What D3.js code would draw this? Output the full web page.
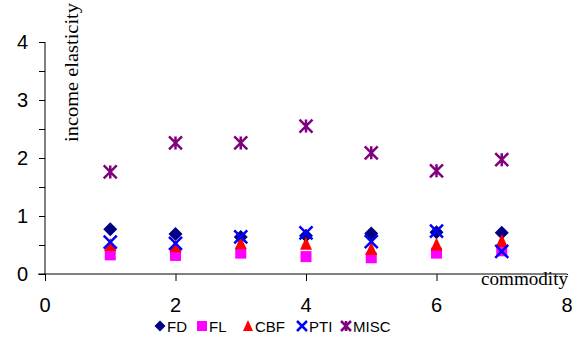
<!DOCTYPE html>
<html><head><meta charset="utf-8">
<script src="https://cdn.jsdelivr.net/npm/d3@7"></script>
<style>body{margin:0;background:#fff}</style>
</head><body>
<svg id="c" width="580" height="349"></svg>
<script>
const commodities = [1, 2, 3, 4, 5, 6, 7];
const FD   = [0.77, 0.69, 0.64, 0.66, 0.70, 0.72, 0.71];
const FL   = [0.33, 0.32, 0.36, 0.30, 0.28, 0.36, 0.40];
const CBF  = [0.50, 0.48, 0.53, 0.52, 0.43, 0.51, 0.57];
const PTI  = [0.55, 0.53, 0.64, 0.71, 0.56, 0.74, 0.39];
const MISC = [1.76, 2.26, 2.26, 2.55, 2.09, 1.78, 1.97];
const seriesNames = ["FD", "FL", "CBF", "PTI", "MISC"];
const xTicks = [0, 2, 4, 6, 8];
const yTicks = [0, 1, 2, 3, 4];

const series = [
  {name: "FD", values: FD, color: "#000080", sym: "diamond"},
  {name: "FL", values: FL, color: "#FF00FF", sym: "square"},
  {name: "CBF", values: CBF, color: "#FF0000", sym: "triangle"},
  {name: "PTI", values: PTI, color: "#0000FF", sym: "x"},
  {name: "MISC", values: MISC, color: "#800080", sym: "star"}
];

const svg = d3.select("#c");
const x = d3.scaleLinear().domain([0, 8]).range([45, 567]);
const y = d3.scaleLinear().domain([0, 4]).range([274, 42]);

// y axis
const gy = svg.append("g").attr("transform", "translate(45,0)")
  .call(d3.axisLeft(y).tickValues(d3.range(0, 4.01, 0.5)).tickSize(6).tickFormat(""));
gy.selectAll("path, line").attr("stroke", "#000").attr("stroke-width", 1);
gy.select(".domain").attr("d", `M0,${y(4)}V${y(0)}`);
svg.append("g").selectAll("text").data(yTicks).join("text")
  .attr("x", 28).attr("y", d => y(d) + 7)
  .attr("text-anchor", "end").attr("font-family", "Liberation Sans, Arial, sans-serif")
  .attr("font-size", 20).text(d => d);

// x axis
const gx = svg.append("g").attr("transform", `translate(0,${y(0)})`)
  .call(d3.axisBottom(x).tickValues(xTicks).tickSize(7).tickFormat(""));
gx.selectAll("path, line").attr("stroke", "#000").attr("stroke-width", 1);
gx.select(".domain").attr("d", `M38,0H${x(8)}`);
svg.append("g").selectAll("text").data(xTicks).join("text")
  .attr("x", d => x(d)).attr("y", 312)
  .attr("text-anchor", "middle").attr("font-family", "Liberation Sans, Arial, sans-serif")
  .attr("font-size", 20).text(d => d);

// axis titles
svg.append("rect").attr("x", 479).attr("y", 275).attr("width", 92).attr("height", 16).attr("fill", "#fff");
svg.append("text").attr("x", 481).attr("y", 285)
  .attr("font-family", "Liberation Serif, Times New Roman, serif").attr("font-size", 18)
  .attr("textLength", 87).attr("lengthAdjust", "spacingAndGlyphs")
  .text("commodity");
svg.append("text").attr("transform", "translate(78,142) rotate(-90)")
  .attr("font-family", "Liberation Serif, Times New Roman, serif").attr("font-size", 18)
  .attr("textLength", 139).attr("lengthAdjust", "spacingAndGlyphs")
  .text("income elasticity");

function drawSym(g, sym, color, s) {
  if (sym === "diamond") {
    g.append("path").attr("d", `M0,${-s}L${s},0L0,${s}L${-s},0Z`).attr("fill", color);
  } else if (sym === "square") {
    g.append("rect").attr("x", -s).attr("y", -s).attr("width", 2 * s).attr("height", 2 * s).attr("fill", color);
  } else if (sym === "triangle") {
    g.append("path").attr("d", `M0,${-s - 1}L${s},${s}L${-s},${s}Z`).attr("fill", color);
  } else if (sym === "x") {
    g.append("path").attr("d", `M${-s},${-s}L${s},${s}M${s},${-s}L${-s},${s}`)
      .attr("stroke", color).attr("stroke-width", 2.5).attr("fill", "none");
  } else if (sym === "star") {
    g.append("path").attr("d", `M${-s},${-s}L${s},${s}M${s},${-s}L${-s},${s}M0,${-s}L0,${s}`)
      .attr("stroke", color).attr("stroke-width", 2.5).attr("fill", "none");
  }
}
const sizes = {diamond: 7, square: 5.5, triangle: 6, x: 6.5, star: 6.5};

series.forEach(s => {
  s.values.forEach((v, i) => {
    const g = svg.append("g").attr("transform", `translate(${x(commodities[i])},${y(v)})`);
    drawSym(g, s.sym, s.color, sizes[s.sym]);
  });
});

// legend
const legX = [160, 202, 248, 302, 346];
const lg = svg.append("g");
series.forEach((s, i) => {
  const g = lg.append("g").attr("transform", `translate(${legX[i]},326)`);
  drawSym(g, s.sym, s.color, s.sym === "diamond" ? 5.5 : 5);
  g.append("text").attr("x", 7).attr("y", 5.5)
    .attr("font-family", "Liberation Sans, Arial, sans-serif").attr("font-size", 15)
    .text(seriesNames[i]);
});
</script>
</body></html>
